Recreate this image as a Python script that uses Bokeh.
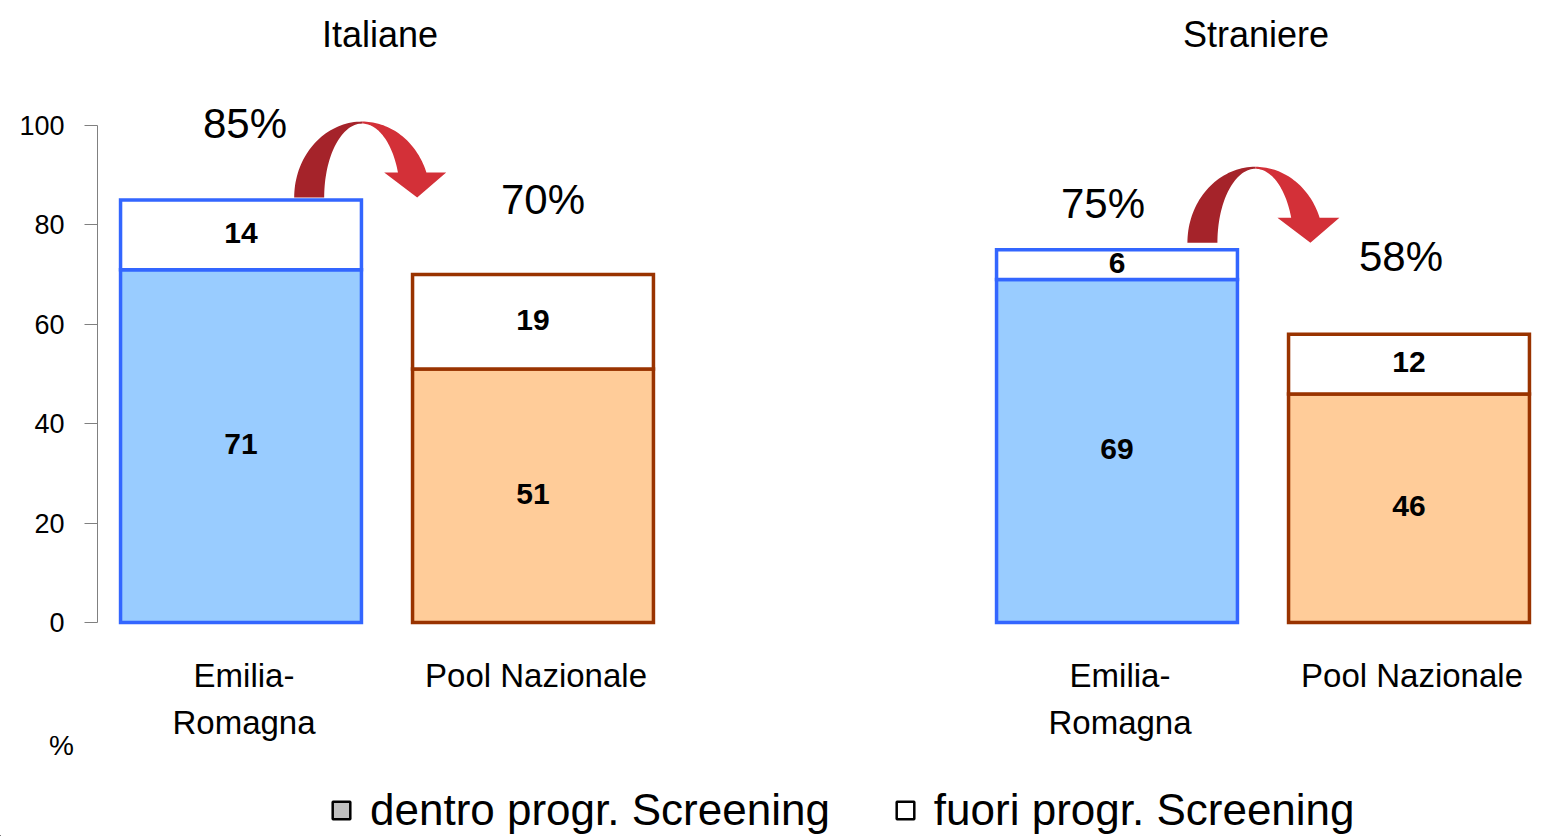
import numpy as np
from bokeh.plotting import figure
from bokeh.models import (Range1d, LinearAxis, FixedTicker, ColumnDataSource,
                          Legend, LegendItem)
from bokeh.core.properties import value
from bokeh.embed import file_html
from bokeh.resources import INLINE

# ---------------- data ----------------
groups = ["Italiane", "Straniere"]
categories = ["Emilia-\nRomagna", "Pool Nazionale"]
# order: Italiane ER, Italiane Pool, Straniere ER, Straniere Pool
dentro = [71, 51, 69, 46]
fuori = [14, 19, 6, 12]
totale_pct = ["85%", "70%", "75%", "58%"]
y_ticks = [0, 20, 40, 60, 80, 100]
legend_labels = ["dentro progr. Screening", "fuori progr. Screening"]
unit_label = "%"

# ---------------- layout ----------------
FONT = "Liberation Sans"
W, H = 1541, 836
PX_X = 292.0      # pixels per bar slot
PX_Y = 4.97       # pixels per percentage point
slots = [0, 1, 3, 4]
BAR_W = 0.825
X0_PX, Y0_PX = 240.5, 622.0   # canvas position of first slot / zero line
AXIS_PX = 97.0
x_start = -X0_PX / PX_X
x_end = x_start + W / PX_X
y_start = -(H - Y0_PX) / PX_Y
y_end = y_start + H / PX_Y

fill_cols = ["#99CCFF", "#FFCC99", "#99CCFF", "#FFCC99"]
line_cols = ["#3366FF", "#993300", "#3366FF", "#993300"]

p = figure(width=W, height=H, x_range=Range1d(x_start, x_end),
           y_range=Range1d(y_start, y_end), output_backend="svg",
           toolbar_location=None, x_axis_type=None, y_axis_type=None,
           min_border_left=0, min_border_right=0, min_border_top=0,
           min_border_bottom=0)
p.outline_line_color = None
p.background_fill_color = "white"

yaxis = LinearAxis(ticker=FixedTicker(ticks=y_ticks), bounds=(0, 100),
                   fixed_location=(AXIS_PX - X0_PX) / PX_X)
yaxis.axis_line_color = "#808080"
yaxis.major_tick_line_color = "#808080"
yaxis.major_tick_out = 13
yaxis.major_tick_in = 0
yaxis.minor_tick_line_color = None
yaxis.major_label_standoff = 20
yaxis.major_label_text_font = FONT
yaxis.major_label_text_font_size = "27px"
yaxis.major_label_text_color = "black"
p.add_layout(yaxis, "left")

totals = [a + b for a, b in zip(dentro, fuori)]
src = ColumnDataSource(dict(
    x=slots, dentro=dentro, totale=totals,
    fill=fill_cols, line=line_cols,
    mid_in=[d / 2 + 2 / PX_Y for d in dentro],
    mid_out=[d + f / 2 + 2 / PX_Y for d, f in zip(dentro, fuori)],
    lab_in=[str(d) for d in dentro], lab_out=[str(f) for f in fuori],
))

p.vbar(x="x", bottom=0, top="dentro", width=BAR_W, source=src,
       fill_color="fill", line_color="line", line_width=3.5, line_join="miter")
p.vbar(x="x", bottom="dentro", top="totale", width=BAR_W, source=src,
       fill_color="white", line_color="line", line_width=3.5, line_join="miter")

p.text(x="x", y="mid_in", text="lab_in", source=src, text_align="center",
       text_baseline="middle", text_font=value(FONT), text_font_size="30px",
       text_font_style="bold", text_color="black")
p.text(x="x", y="mid_out", text="lab_out", source=src, text_align="center",
       text_baseline="middle", text_font=value(FONT), text_font_size="30px",
       text_font_style="bold", text_color="black")

# percentage labels above bars (offsets in px)
pct_dx = [4, 10, -14, -8]
pct_dy = [77, 75, 46, 78]
p.text(x=[s + dx / PX_X for s, dx in zip(slots, pct_dx)],
       y=[t + dy / PX_Y for t, dy in zip(totals, pct_dy)],
       text=totale_pct, text_align="center", text_baseline="middle",
       text_font=value(FONT), text_font_size="42px", text_color="black")

# group titles
p.text(x=[(slots[0] + slots[1]) / 2 - 7 / PX_X, (slots[2] + slots[3]) / 2 - 7 / PX_X],
       y=[(Y0_PX - 34) / PX_Y] * 2, text=groups, text_align="center",
       text_baseline="alphabetic", text_font=value(FONT),
       text_font_size="36px", text_color="black")

# category labels (two lines)
for i, s in enumerate(slots):
    lines = categories[i % 2].split("\n")
    for j, ln in enumerate(lines):
        p.text(x=[s + 3 / PX_X], y=[-(53 + 47 * j) / PX_Y], text=[ln],
               text_align="center", text_baseline="alphabetic",
               text_font=value(FONT), text_font_size="33px", text_color="black")

# unit label under the axis
p.text(x=[(61 - X0_PX) / PX_X], y=[-(745 - Y0_PX) / PX_Y], text=[unit_label],
       text_align="center", text_baseline="middle", text_font=value(FONT),
       text_font_size="28px", text_color="black")

# curved arrows between bars
def arrow(cx, by):
    ao, ai, bo, bi, hh = 68.0, 38.0, 76.0, 74.0, 25.0
    t = np.linspace(np.pi, np.pi / 2, 40)
    lx = np.concatenate([cx + ao * np.cos(t) / PX_X, cx + ai * np.cos(t[::-1]) / PX_X])
    ly = np.concatenate([by + bo * np.sin(t) / PX_Y, by + bi * np.sin(t[::-1]) / PX_Y])
    to = np.linspace(np.pi / 2, np.arcsin(hh / bo), 40)
    ti = np.linspace(np.arcsin(hh / bi), np.pi / 2, 40)
    rx = np.concatenate([cx + ao * np.cos(to) / PX_X,
                         [cx + 84 / PX_X, cx + 55 / PX_X, cx + 22 / PX_X],
                         cx + ai * np.cos(ti) / PX_X])
    ry = np.concatenate([by + bo * np.sin(to) / PX_Y,
                         [by + hh / PX_Y, by, by + hh / PX_Y],
                         by + bi * np.sin(ti) / PX_Y])
    return (list(lx), list(ly)), (list(rx), list(ry))

arrow_dx = [0.415, 0.474]
arrow_dy = [0.5, 1.4]
for g in range(2):
    er = 2 * g
    (lx, ly), (rx, ry) = arrow(slots[er] + arrow_dx[g], totals[er] + arrow_dy[g])
    p.patch(rx, ry, fill_color="#D33038", line_color=None)
    p.patch(lx, ly, fill_color="#A5232A", line_color=None)

# legend (glyph renderers sit far outside the visible range)
far_x, far_y = x_start - 50, y_start - 500
r1 = p.vbar(x=[far_x], bottom=[far_y], top=[far_y + 1], width=0.1,
            fill_color="#C0C0C0", line_color="black", line_width=2.5)
r2 = p.vbar(x=[far_x], bottom=[far_y], top=[far_y + 1], width=0.1,
            fill_color="white", line_color="black", line_width=2.5)
legend = Legend(items=[LegendItem(label=legend_labels[0], renderers=[r1]),
                       LegendItem(label=legend_labels[1], renderers=[r2])],
                orientation="horizontal", location=(330, 1),
                label_text_font=FONT, label_text_font_size="44px",
                label_text_color="black", glyph_width=22, glyph_height=22,
                label_standoff=18, spacing=64, padding=0, margin=0,
                background_fill_alpha=0, border_line_alpha=0)
p.add_layout(legend)

open("out.html", "w").write(file_html(p, INLINE))
